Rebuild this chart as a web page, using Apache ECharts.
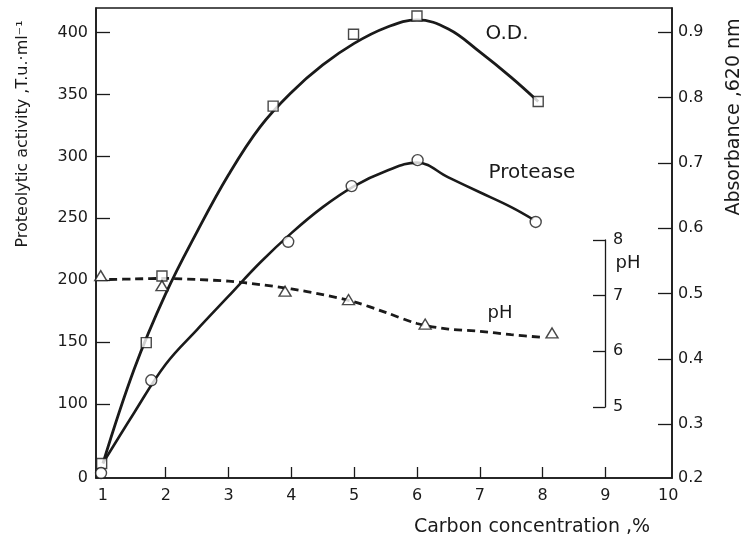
<!DOCTYPE html>
<html>
<head>
<meta charset="utf-8">
<script src="https://cdn.jsdelivr.net/npm/echarts@6/dist/echarts.min.js"></script>
<style>
html,body{margin:0;padding:0;background:#fff;}
#c{width:745px;height:539px;}
</style>
</head>
<body>
<div id="c"></div>
<script>
// ---- data ----
const xTickValues = [1, 2, 3, 4, 5, 6, 7, 8, 9, 10];
const protTickValues = [40, 100, 150, 200, 250, 300, 350, 400];   // bottom corner labelled "0"
const odTickValues = [0.2178, 0.3, 0.4, 0.5, 0.6, 0.7, 0.8, 0.9]; // bottom corner labelled "0.2"
const phTickValues = [5, 6, 7, 8];

// O.D. (absorbance, right axis) measured points
const odX = [0.98, 1.69, 1.94, 3.71, 4.99, 6.0, 7.93];
const odY = [0.240, 0.425, 0.527, 0.787, 0.897, 0.925, 0.794];
// O.D. fitted curve
const odCurveX = [1.0, 1.5, 2.0, 2.5, 3.0, 3.5, 4.0, 4.5, 5.0, 5.5, 6.0, 6.5, 7.0, 7.5, 7.93];
const odCurveY = [0.24, 0.385, 0.50, 0.595, 0.682, 0.755, 0.808, 0.850, 0.883, 0.907, 0.919, 0.905, 0.870, 0.831, 0.794];

// Protease (left axis) measured points
const protX = [0.97, 1.77, 3.95, 4.96, 6.01, 7.89];
const protY = [44, 119, 231, 276, 297, 247];
// Protease fitted curve
const protCurveX = [1.0, 1.5, 2.0, 2.5, 3.0, 3.5, 4.0, 4.5, 5.0, 5.5, 6.0, 6.5, 7.0, 7.5, 7.85];
const protCurveY = [52, 93, 132, 160, 187, 214, 238, 259, 276, 288, 295, 283, 271, 259, 249];

// pH measured points
const phX = [0.965, 1.94, 3.90, 4.91, 6.13, 8.15];
const phY = [7.36, 7.18, 7.08, 6.93, 6.49, 6.33];
// pH fitted curve (dashed)
const phCurveX = [1.1, 1.5, 2.0, 2.5, 3.0, 3.5, 4.0, 4.5, 5.0, 5.5, 6.0, 6.5, 7.0, 7.5, 8.0];
const phCurveY = [7.29, 7.30, 7.31, 7.29, 7.26, 7.20, 7.12, 7.02, 6.89, 6.70, 6.50, 6.40, 6.36, 6.30, 6.25];

const FONT = 'DejaVu Sans';
const INK = '#1a1a1a';
const zip = (a, b) => a.map((v, i) => [v, b[i]]);

const chart = echarts.init(document.getElementById('c'));
const baseLabel = {color: INK, fontFamily: FONT, fontSize: 16};
const markerStyle = {color: '#fff', borderColor: INK, borderWidth: 1.4};
const txt = (text, x, y, size, rot) => ({
  type: 'text', x: x, y: y, rotation: rot || 0,
  style: {text: text, fontFamily: FONT, fontSize: size, fill: INK, align: 'center', verticalAlign: 'middle'}
});

chart.setOption({
  animation: false,
  backgroundColor: '#fff',
  grid: [
    {left: 96, right: 73, top: 8, bottom: 61, show: true, borderColor: INK, borderWidth: 1.5, backgroundColor: 'transparent'},
    {left: 96, right: 73, top: 240, bottom: 132, show: false}
  ],
  xAxis: [
    {
      type: 'value', gridIndex: 0, min: 0.89, max: 10.06,
      axisLine: {show: true, onZero: false, lineStyle: {color: INK, width: 1.6}},
      axisTick: {show: true, inside: true, length: 11, customValues: [2, 3, 4, 5, 6, 7, 8, 9], lineStyle: {color: INK, width: 1.3}},
      axisLabel: Object.assign({customValues: xTickValues, margin: 10}, baseLabel),
      splitLine: {show: false}
    },
    {type: 'value', gridIndex: 1, min: 0.89, max: 10.06, show: false}
  ],
  yAxis: [
    {
      type: 'value', gridIndex: 0, position: 'left', min: 40, max: 420,
      axisLine: {show: true, onZero: false, lineStyle: {color: INK, width: 1.6}},
      axisTick: {show: true, inside: true, length: 14, customValues: protTickValues.slice(1), lineStyle: {color: INK, width: 1.3}},
      axisLabel: Object.assign({customValues: protTickValues, margin: 8,
        formatter: v => (v === protTickValues[0] ? '0' : String(v))}, baseLabel),
      splitLine: {show: false}
    },
    {
      type: 'value', gridIndex: 0, position: 'right', min: 0.2178, max: 0.9372,
      axisLine: {show: true, onZero: false, lineStyle: {color: INK, width: 1.6}},
      axisTick: {show: true, inside: true, length: 14, customValues: odTickValues.slice(1), lineStyle: {color: INK, width: 1.3}},
      axisLabel: Object.assign({customValues: odTickValues, margin: 6,
        formatter: v => (v === odTickValues[0] ? '0.2' : v.toFixed(1))}, baseLabel),
      splitLine: {show: false}
    },
    {
      type: 'value', gridIndex: 1, position: 'right', offset: -67, min: 5, max: 8, interval: 1,
      axisLine: {show: true, onZero: false, lineStyle: {color: INK, width: 1.3}},
      axisTick: {show: true, inside: true, length: 12, customValues: phTickValues, lineStyle: {color: INK, width: 1.3}},
      axisLabel: Object.assign({customValues: phTickValues, margin: 8}, baseLabel),
      splitLine: {show: false}
    }
  ],
  graphic: [
    txt('Proteolytic activity ,T.u.·ml⁻¹', 23, 134, 16, Math.PI / 2),
    txt('Absorbance ,620 nm', 734, 117, 19, Math.PI / 2),
    txt('Carbon concentration ,%', 532, 527, 19),
    txt('O.D.', 507, 34, 20),
    txt('Protease', 532, 173, 20),
    txt('pH', 500, 313, 18),
    txt('pH', 628, 263, 18)
  ],
  series: [
    {type: 'line', name: 'O.D. curve', xAxisIndex: 0, yAxisIndex: 1, data: zip(odCurveX, odCurveY),
      smooth: 0.4, showSymbol: false, lineStyle: {color: INK, width: 2.8}, z: 2},
    {type: 'line', name: 'Protease curve', xAxisIndex: 0, yAxisIndex: 0, data: zip(protCurveX, protCurveY),
      smooth: 0.4, showSymbol: false, lineStyle: {color: INK, width: 2.6}, z: 2},
    {type: 'line', name: 'pH curve', xAxisIndex: 1, yAxisIndex: 2, data: zip(phCurveX, phCurveY),
      smooth: 0.3, showSymbol: false, lineStyle: {color: INK, width: 2.8, type: [8, 5]}, z: 2},
    {type: 'scatter', name: 'O.D.', xAxisIndex: 0, yAxisIndex: 1, data: zip(odX, odY),
      symbol: 'rect', symbolSize: 10, itemStyle: markerStyle, z: 5},
    {type: 'scatter', name: 'Protease', xAxisIndex: 0, yAxisIndex: 0, data: zip(protX, protY),
      symbol: 'circle', symbolSize: 11, itemStyle: markerStyle, z: 5},
    {type: 'scatter', name: 'pH', xAxisIndex: 1, yAxisIndex: 2, data: zip(phX, phY),
      symbol: 'triangle', symbolSize: [12, 10], itemStyle: markerStyle, z: 5}
  ]
});
</script>
</body>
</html>
